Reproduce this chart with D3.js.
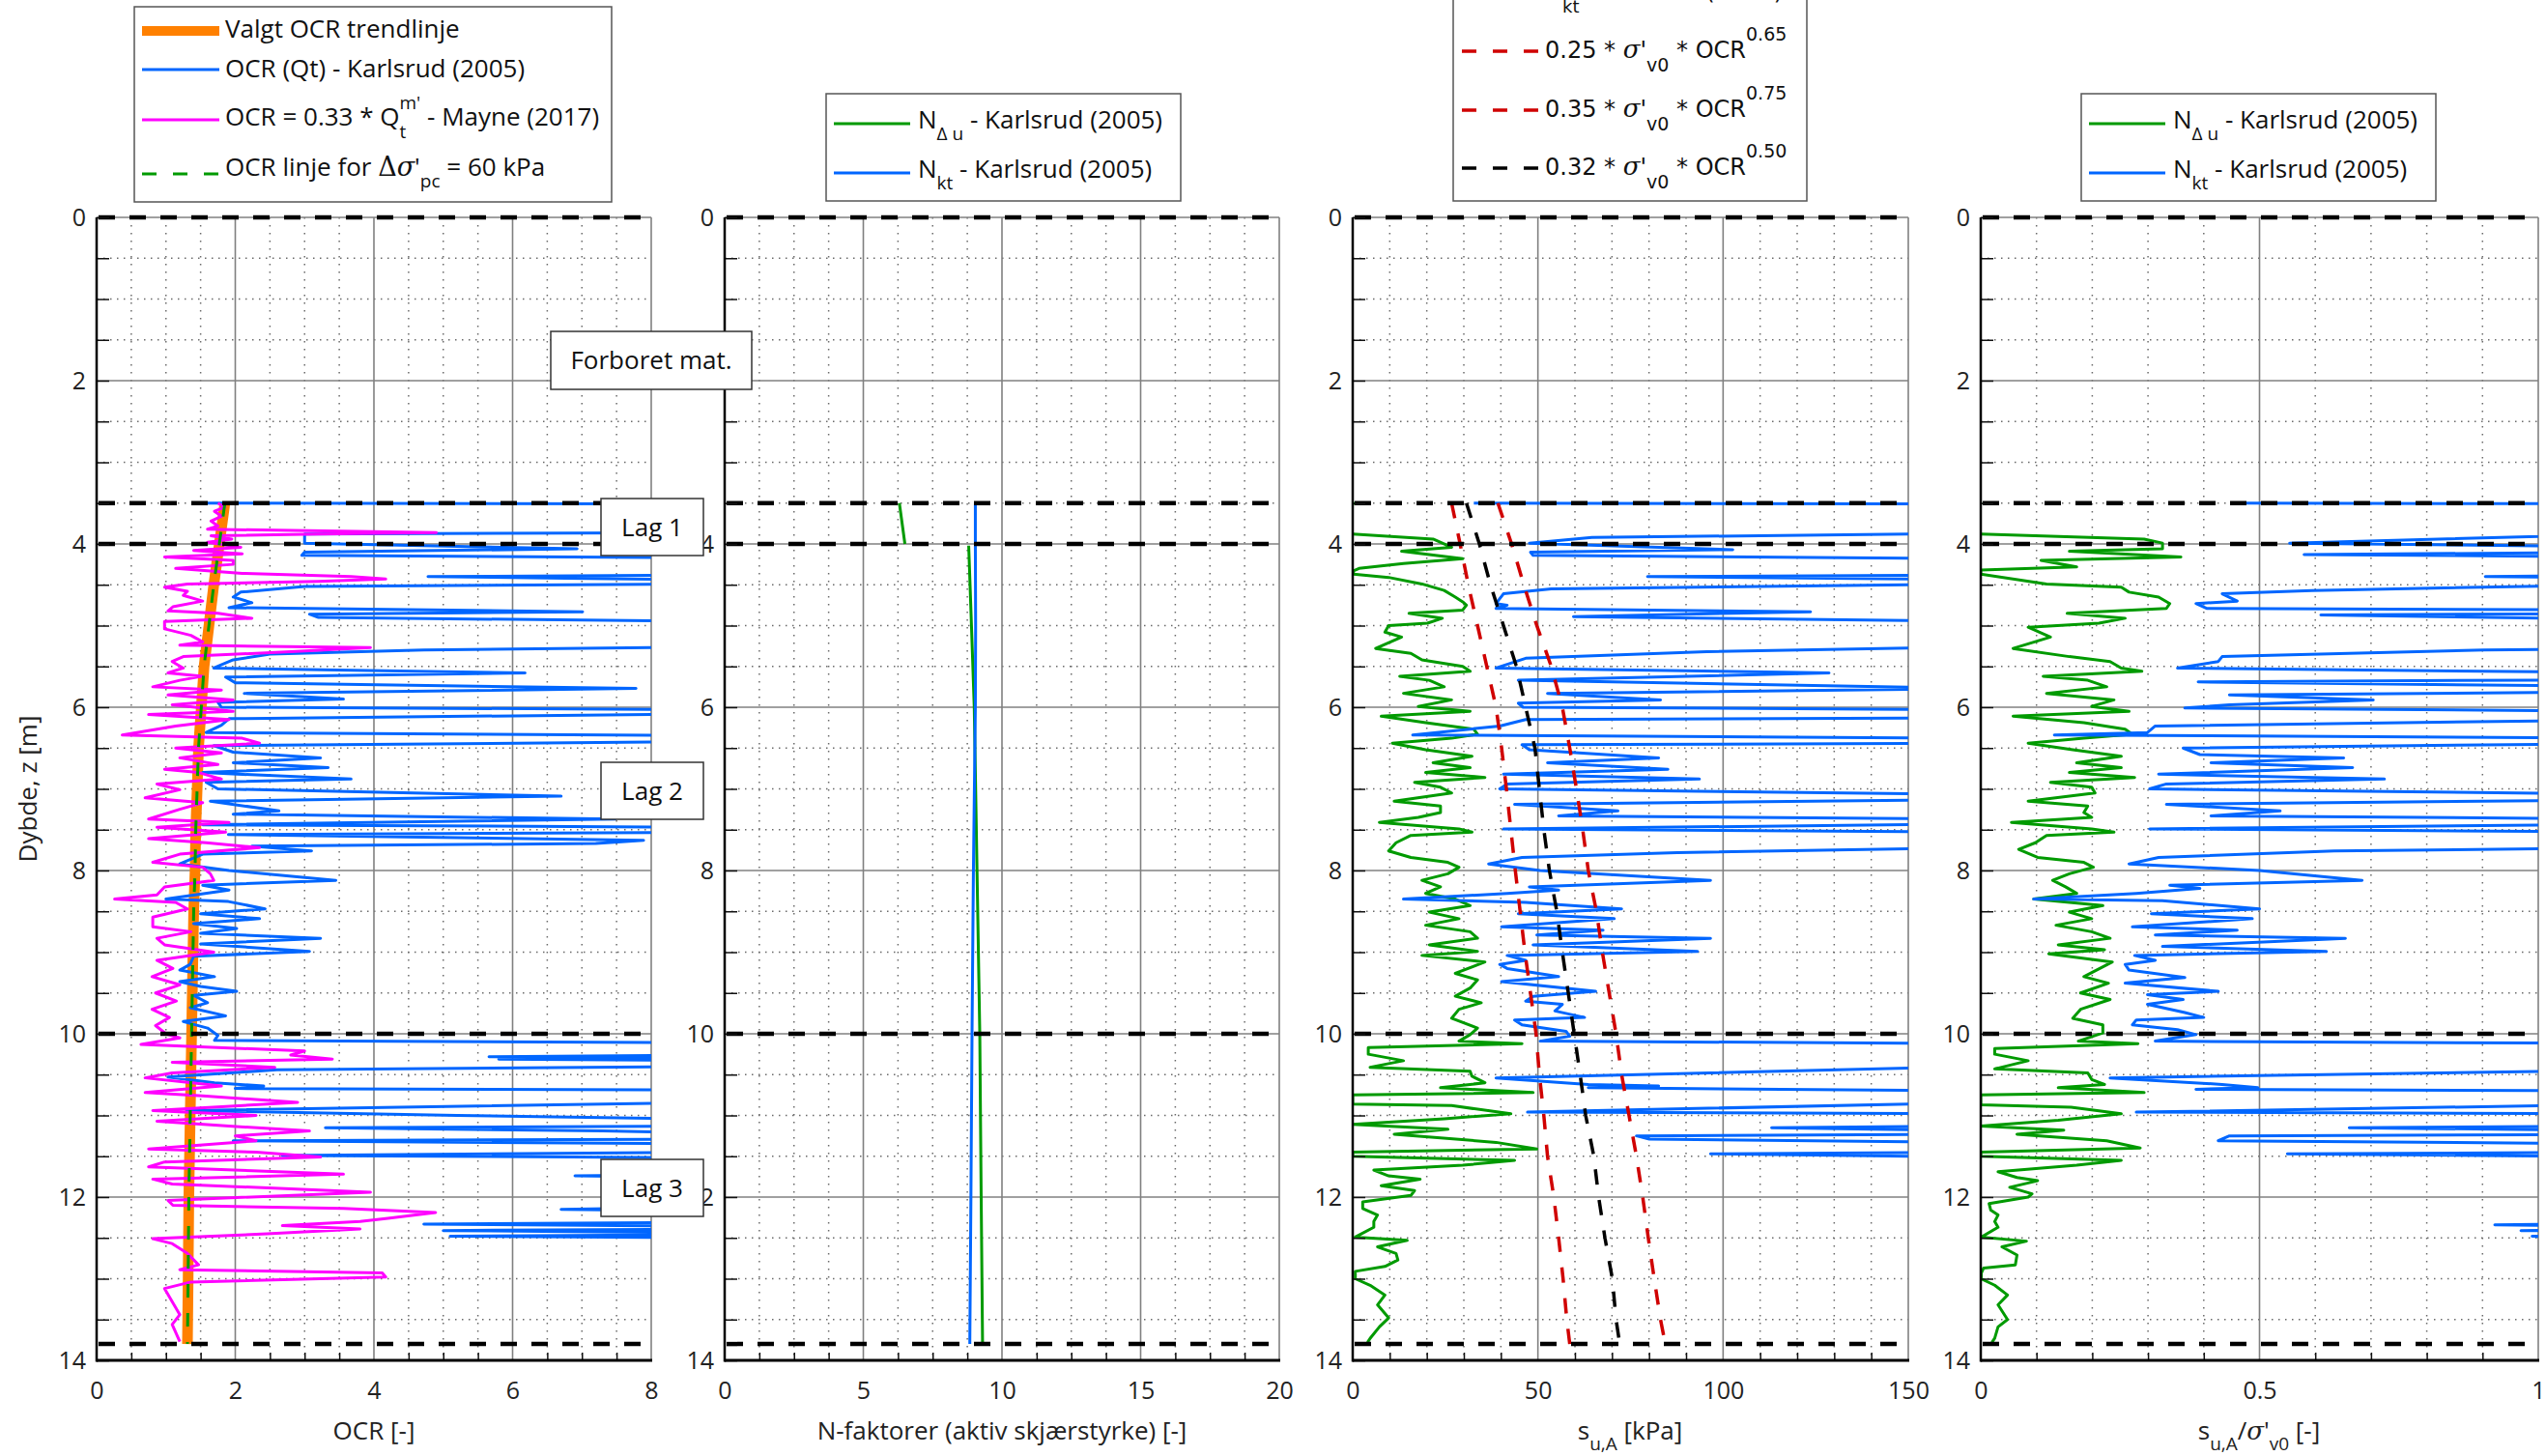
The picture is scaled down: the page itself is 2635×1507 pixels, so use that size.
<!DOCTYPE html>
<html>
<head>
<meta charset="utf-8">
<script src="https://cdn.jsdelivr.net/npm/d3@7"></script>
<style>
html, body { margin: 0; padding: 0; background: #fff; }
svg text { white-space: pre; }
</style>
</head>
<body>
<svg id="chart" width="2635" height="1507"></svg>
<script>
/* Tick labels and layer boundaries */
var depthTicks = [0, 2, 4, 6, 8, 10, 12, 14];
var ocrTicks = [0, 2, 4, 6, 8];
var nTicks = [0, 5, 10, 15, 20];
var suTicks = [0, 50, 100, 150];
var ratioTicks = [0, 0.5, 1];
var layerDepths = [0, 3.5, 4, 10, 13.8];
var layerLabels = ["Lag 1", "Lag 2", "Lag 3"];

/* Panel 1 - OCR, pairs of [depth, value]; 9 = off scale (> 8) */
var ocrTrend = [[3.5,1.85],[4,1.77],[4.5,1.69],[5,1.62],[5.5,1.55],[6,1.51],[6.5,1.47],[7,1.45],[7.5,1.43],[8,1.42],[8.5,1.40],[9,1.39],[10,1.37],[11,1.35],[12,1.33],[13,1.32],[13.8,1.31]];
var ocrLine60 = [[3.5,1.85],[4,1.77],[4.5,1.69],[5,1.62],[5.5,1.55],[6,1.51],[6.5,1.47],[7,1.45],[7.5,1.43],[8,1.42],[8.5,1.40],[9,1.39],[10,1.37],[11,1.35],[12,1.33],[13,1.32],[13.8,1.31]];
var ocrQt = [[3.5,1.58],[3.51,9],[3.86,9],[3.88,3.0],[3.99,3.0],[4.06,6.93],[4.1,3.0],[4.14,2.96],[4.17,9],[4.38,9],[4.4,4.78],[4.42,6.76],[4.44,9],[4.49,9],[4.52,3.0],[4.59,2.08],[4.65,1.97],[4.72,2.24],[4.78,1.91],[4.83,7.01],[4.86,3.07],[4.9,3.2],[4.95,9],[5.26,9],[5.3,4.72],[5.35,2.5],[5.42,1.97],[5.52,1.69],[5.58,6.18],[5.63,1.86],[5.7,2.0],[5.77,7.78],[5.83,2.13],[5.9,3.56],[5.94,1.75],[6.0,1.8],[6.03,9],[6.08,9],[6.14,1.91],[6.22,1.8],[6.31,1.58],[6.35,9],[6.42,9],[6.47,1.69],[6.55,1.97],[6.62,3.23],[6.68,1.97],[6.74,3.34],[6.8,1.53],[6.88,3.67],[6.92,1.58],[7.0,1.75],[7.09,6.7],[7.15,1.64],[7.27,2.63],[7.31,1.97],[7.37,7.48],[7.44,1.53],[7.47,9],[7.53,9],[7.56,1.9],[7.63,7.89],[7.67,7.2],[7.7,2.24],[7.76,3.1],[7.8,1.53],[7.92,1.2],[8.0,1.91],[8.12,3.45],[8.18,1.53],[8.24,1.91],[8.35,1.0],[8.38,1.9],[8.47,2.43],[8.53,1.5],[8.59,2.35],[8.65,1.4],[8.71,2.02],[8.77,1.5],[8.83,3.23],[8.9,1.5],[8.99,3.07],[9.05,1.4],[9.15,1.35],[9.22,1.2],[9.3,1.7],[9.36,1.2],[9.42,1.5],[9.48,2.02],[9.53,1.4],[9.62,1.6],[9.68,1.35],[9.78,1.86],[9.85,1.25],[9.93,1.6],[10.02,1.75],[10.08,1.7],[10.11,9],[10.26,9],[10.28,5.66],[10.3,9],[10.31,5.8],[10.33,9],[10.4,9],[10.44,2.6],[10.53,1.03],[10.6,1.7],[10.64,2.41],[10.67,2.0],[10.69,9],[10.84,9],[10.94,1.3],[11.0,5.2],[11.05,9],[11.13,9],[11.15,3.3],[11.19,7.3],[11.22,9],[11.29,9],[11.31,1.97],[11.35,9],[11.45,9],[11.49,2.68],[11.52,9],[11.72,9],[11.74,6.9],[11.76,9],[12.12,9],[12.15,6.7],[12.17,9],[12.31,9],[12.33,4.72],[12.36,9],[12.39,9],[12.41,5.0],[12.44,9],[12.46,9],[12.48,5.1],[12.5,9],[13.8,9]];
var ocrMayne = [[3.5,1.75],[3.55,1.85],[3.6,1.7],[3.66,1.8],[3.72,1.65],[3.78,1.75],[3.82,1.6],[3.86,4.9],[3.88,3.2],[3.9,1.65],[3.94,1.95],[3.98,1.6],[4.04,2.08],[4.08,1.4],[4.12,2.1],[4.16,0.98],[4.2,1.97],[4.25,1.97],[4.3,1.14],[4.36,2.1],[4.4,3.67],[4.43,4.17],[4.46,3.2],[4.49,1.31],[4.53,0.98],[4.58,1.31],[4.63,1.25],[4.7,1.53],[4.77,1.1],[4.82,1.03],[4.85,1.75],[4.91,2.24],[4.95,0.98],[5.04,0.98],[5.12,1.36],[5.2,1.53],[5.24,1.2],[5.27,3.95],[5.32,2.8],[5.38,1.25],[5.44,1.09],[5.52,1.25],[5.58,1.03],[5.62,1.53],[5.67,1.2],[5.75,0.81],[5.79,1.8],[5.85,1.03],[5.91,1.97],[5.97,1.09],[6.05,1.97],[6.09,0.75],[6.15,1.91],[6.23,1.14],[6.34,0.37],[6.38,2.1],[6.44,2.35],[6.5,1.14],[6.56,1.8],[6.62,1.2],[6.7,1.75],[6.76,0.98],[6.8,1.47],[6.88,1.8],[6.94,0.87],[7.01,1.2],[7.11,0.7],[7.17,1.53],[7.25,1.2],[7.37,0.75],[7.41,1.91],[7.47,0.87],[7.53,1.86],[7.61,0.75],[7.66,1.58],[7.72,2.35],[7.8,1.2],[7.9,0.81],[7.96,1.53],[8.04,1.64],[8.12,1.69],[8.2,0.98],[8.3,0.87],[8.35,0.26],[8.39,1.14],[8.47,1.31],[8.57,0.81],[8.69,0.81],[8.75,1.36],[8.83,0.87],[8.91,0.98],[9.0,1.69],[9.1,0.87],[9.2,1.1],[9.3,0.8],[9.4,1.2],[9.5,0.85],[9.6,1.15],[9.7,0.8],[9.8,1.05],[9.9,0.85],[10.0,1.0],[10.05,1.2],[10.13,0.64],[10.21,3.0],[10.26,2.8],[10.31,3.4],[10.35,1.09],[10.41,2.57],[10.48,1.09],[10.54,0.7],[10.64,1.8],[10.72,0.7],[10.76,1.53],[10.84,2.9],[10.94,0.81],[11.0,2.3],[11.07,0.87],[11.13,1.91],[11.19,3.07],[11.25,2.0],[11.31,2.3],[11.41,0.75],[11.45,2.3],[11.51,3.23],[11.57,0.98],[11.63,0.75],[11.72,3.56],[11.78,0.81],[11.84,1.09],[11.94,3.95],[12.04,1.03],[12.1,1.1],[12.14,3.56],[12.19,4.89],[12.26,4.2],[12.3,3.8],[12.35,2.68],[12.39,3.8],[12.45,2.46],[12.51,0.81],[12.57,1.09],[12.69,1.31],[12.83,1.47],[12.89,1.2],[12.93,4.12],[12.98,4.17],[13.04,1.36],[13.12,0.98],[13.28,1.09],[13.44,1.2],[13.56,1.09],[13.77,1.2]];

/* Panel 2 - N factors (null value = break in the line) */
var nDeltaU = [[3.5,6.3],[4.0,6.5],[4.01,null],[4.02,8.8],[5,8.9],[6,9.0],[8,9.1],[10,9.2],[12,9.25],[13.8,9.3]];
var nKt = [[3.5,9.04],[4,9.04],[5,9.05],[6,9.04],[8,8.97],[10,8.92],[12,8.88],[13.8,8.84]];

/* Panel 3 - su,A [kPa]; 170 = off scale (> 150), -5 = below 0 */
var suDeltaU = [[3.5,1.5],[3.52,-5],[3.87,-5],[3.88,0],[3.94,21.7],[4.04,26.7],[4.09,13.2],[4.18,29.7],[4.24,13.7],[4.3,1.7],[4.33,0.2],[4.37,0.2],[4.41,9.7],[4.49,18.7],[4.57,24.7],[4.65,27.7],[4.71,29.7],[4.75,30.7],[4.81,29.7],[4.85,15.2],[4.91,24.2],[4.97,20.2],[5.0,9.7],[5.08,8.7],[5.14,13.2],[5.28,6.2],[5.34,15.7],[5.42,18.7],[5.5,29.7],[5.56,31.7],[5.62,12.7],[5.67,20.7],[5.75,24.7],[5.83,13.7],[5.91,26.7],[5.99,17.7],[6.05,31.7],[6.11,7.7],[6.19,19.7],[6.27,32.7],[6.33,33.7],[6.38,26.7],[6.44,10.7],[6.52,19.7],[6.6,32.2],[6.68,21.7],[6.74,31.7],[6.8,19.7],[6.86,35.7],[6.92,16.7],[6.98,23.7],[7.05,26.7],[7.15,11.2],[7.21,23.7],[7.29,23.7],[7.35,17.7],[7.41,7.2],[7.49,28.7],[7.53,32.2],[7.57,15.7],[7.66,11.7],[7.76,9.7],[7.84,15.7],[7.9,25.7],[7.96,28.7],[8.04,25.7],[8.12,18.7],[8.2,23.7],[8.28,19.7],[8.35,27.7],[8.43,31.7],[8.51,20.7],[8.59,28.7],[8.67,19.7],[8.75,31.7],[8.83,33.7],[8.91,20.7],[8.99,33.7],[9.04,18.7],[9.12,35.7],[9.26,27.7],[9.34,33.7],[9.44,31.7],[9.54,27.7],[9.62,34.7],[9.7,28.7],[9.81,26.7],[9.93,33.7],[10.01,31.7],[10.09,28.7],[10.12,45.7],[10.17,4.2],[10.25,4.2],[10.33,13.7],[10.41,4.7],[10.46,31.7],[10.52,32.2],[10.6,35.7],[10.66,23.7],[10.72,48.7],[10.75,0],[10.86,0],[10.88,26.7],[10.98,42.7],[11.04,24.7],[11.11,0],[11.17,25.7],[11.23,11.2],[11.33,38.7],[11.41,49.7],[11.45,0],[11.5,0],[11.55,43.7],[11.61,29.7],[11.67,5.7],[11.74,9.7],[11.78,18.2],[11.86,7.7],[11.92,16.7],[11.98,15.7],[12.06,2.7],[12.14,2.7],[12.22,6.7],[12.3,5.7],[12.37,5.7],[12.49,0.7],[12.53,14.7],[12.61,6.7],[12.69,11.7],[12.77,12.2],[12.85,8.7],[12.91,0.7],[13.0,0.7],[13.08,4.7],[13.2,8.7],[13.32,6.7],[13.48,9.7],[13.59,7.2],[13.73,4.7],[13.78,4.0]];
var suKt = [[3.5,32.7],[3.51,170],[3.87,170],[3.92,64.6],[3.99,47.7],[4.07,102.6],[4.1,48],[4.14,48.7],[4.18,170],[4.38,170],[4.4,79.6],[4.42,128.6],[4.44,170],[4.49,170],[4.55,53.6],[4.61,40.7],[4.73,38.7],[4.75,41.7],[4.79,38.7],[4.83,123.6],[4.89,59.6],[4.95,170],[5.26,170],[5.32,95.6],[5.4,46.7],[5.52,38.7],[5.58,128.6],[5.67,44.7],[5.77,170],[5.83,52.6],[5.91,83.1],[5.95,44.7],[6.0,46],[6.03,170],[6.13,170],[6.15,46.7],[6.23,39.7],[6.34,16.2],[6.38,170],[6.44,170],[6.46,45.7],[6.52,47.7],[6.62,82.6],[6.68,52.6],[6.76,85.1],[6.82,40.7],[6.88,93.6],[6.94,41.7],[7.0,39.7],[7.07,170],[7.13,170],[7.19,43.7],[7.27,71.6],[7.33,55.6],[7.37,170],[7.43,170],[7.49,40.7],[7.53,170],[7.72,170],[7.78,87.6],[7.84,45.7],[7.92,36.7],[8.0,50.6],[8.12,96.6],[8.2,47.7],[8.24,55.6],[8.28,41.7],[8.35,13.7],[8.39,46.7],[8.47,72.6],[8.53,44.7],[8.59,70.6],[8.69,40.2],[8.73,67.6],[8.79,49.7],[8.83,96.6],[8.91,48.7],[8.99,93.1],[9.04,41.7],[9.1,46.7],[9.15,39.7],[9.2,41.7],[9.3,55.6],[9.36,40.2],[9.48,65.6],[9.54,48.7],[9.6,46.7],[9.64,56.6],[9.72,54.6],[9.8,62.6],[9.83,43.7],[9.89,45.7],[9.97,57.6],[10.03,58.6],[10.09,50.6],[10.12,170],[10.4,170],[10.54,38.7],[10.62,63.6],[10.64,82.6],[10.66,63.6],[10.7,170],[10.84,170],[10.96,47.2],[10.98,170],[11.13,170],[11.15,113.1],[11.19,170],[11.23,170],[11.25,76.6],[11.29,80.1],[11.33,170],[11.45,170],[11.47,96.6],[11.51,170],[13.8,170]];
var suLow = [[3.5,26.7],[4,29.0],[4.5,31.2],[5,33.7],[5.5,36.2],[6,38.7],[6.5,40.2],[7,41.5],[7.5,42.7],[8,43.9],[8.5,45.2],[9,46.5],[10,49.5],[10.5,50.4],[11,51.6],[11.5,52.6],[12,54.3],[12.5,55.6],[13,56.8],[13.5,57.8],[13.8,58.6]];
var suHigh = [[3.5,39.2],[4,42.9],[4.5,46.2],[5,49.7],[5.5,53.6],[6,56.6],[6.5,58.6],[7,60.4],[7.5,62.1],[8,63.6],[8.5,65.8],[9,67.4],[10,71.1],[10.5,72.6],[11,74.6],[11.5,76.6],[12,78.3],[12.5,79.8],[13,81.4],[13.5,83.1],[13.8,84.4]];
var suMid = [[3.5,30.7],[4,34.2],[4.5,37.2],[5,40.7],[5.5,44.2],[6,46.7],[6.5,49.2],[7,50.4],[7.5,51.6],[8,53.1],[8.5,55.1],[9,56.6],[10,59.8],[10.5,61.4],[11,62.9],[11.5,65.1],[12,66.4],[12.5,68.1],[13,70.1],[13.5,71.1],[13.8,72.1]];

/* Panel 4 - su,A / sigma'v0; 1.2 = off scale (> 1) */
var ratioDeltaU = [[3.5,0.002],[3.52,-0.05],[3.87,-0.05],[3.88,0],[3.94,0.293],[3.99,0.326],[4.06,0.326],[4.09,0.159],[4.16,0.359],[4.2,0.108],[4.28,0.172],[4.32,0],[4.37,0],[4.49,0.118],[4.53,0.252],[4.59,0.266],[4.65,0.319],[4.73,0.339],[4.79,0.333],[4.85,0.155],[4.91,0.259],[4.97,0.212],[5.02,0.085],[5.14,0.125],[5.28,0.058],[5.38,0.159],[5.44,0.232],[5.52,0.252],[5.56,0.289],[5.62,0.112],[5.67,0.192],[5.75,0.226],[5.83,0.118],[5.91,0.239],[5.99,0.199],[6.05,0.266],[6.11,0.058],[6.19,0.185],[6.27,0.259],[6.33,0.272],[6.38,0.185],[6.44,0.085],[6.52,0.165],[6.6,0.252],[6.68,0.172],[6.74,0.252],[6.8,0.159],[6.86,0.276],[6.92,0.125],[6.98,0.199],[7.05,0.205],[7.15,0.085],[7.21,0.192],[7.29,0.185],[7.35,0.199],[7.41,0.055],[7.49,0.199],[7.53,0.239],[7.57,0.118],[7.66,0.098],[7.74,0.068],[7.84,0.102],[7.9,0.185],[7.96,0.202],[8.04,0.159],[8.12,0.129],[8.2,0.152],[8.28,0.172],[8.35,0.095],[8.43,0.219],[8.51,0.159],[8.59,0.199],[8.67,0.135],[8.75,0.199],[8.83,0.232],[8.91,0.139],[8.97,0.222],[9.02,0.122],[9.12,0.236],[9.3,0.185],[9.38,0.229],[9.5,0.179],[9.58,0.232],[9.7,0.179],[9.81,0.165],[9.89,0.219],[9.99,0.219],[10.09,0.175],[10.12,0.282],[10.18,0.025],[10.25,0.025],[10.33,0.085],[10.43,0.025],[10.48,0.192],[10.56,0.199],[10.62,0.222],[10.66,0.139],[10.72,0.293],[10.75,0],[10.87,0],[10.9,0.162],[10.98,0.252],[11.06,0.139],[11.13,0],[11.18,0.149],[11.23,0.065],[11.31,0.226],[11.4,0.286],[11.45,0],[11.5,0],[11.55,0.252],[11.61,0.172],[11.69,0.031],[11.76,0.065],[11.8,0.102],[11.88,0.052],[11.96,0.092],[12.0,0.085],[12.08,0.015],[12.16,0.018],[12.22,0.031],[12.3,0.025],[12.37,0.031],[12.49,0.001],[12.54,0.082],[12.61,0.038],[12.71,0.065],[12.83,0.062],[12.87,0.005],[12.93,0.001],[13.0,0.001],[13.08,0.025],[13.2,0.048],[13.32,0.031],[13.5,0.048],[13.59,0.031],[13.73,0.025],[13.78,0.02]];
var ratioKt = [[3.5,0.473],[3.51,1.2],[3.87,1.2],[3.99,0.554],[4.04,1.2],[4.1,1.2],[4.13,0.58],[4.16,1.2],[4.38,1.2],[4.4,0.905],[4.42,1.2],[4.49,1.2],[4.57,0.594],[4.61,0.433],[4.7,0.46],[4.73,0.386],[4.79,0.406],[4.81,1.2],[4.85,1.2],[4.87,0.61],[4.93,1.2],[5.28,1.2],[5.3,0.902],[5.38,0.433],[5.44,0.426],[5.52,0.353],[5.58,1.2],[5.66,1.2],[5.69,0.39],[5.75,1.2],[5.81,1.2],[5.85,0.446],[5.91,0.704],[5.97,0.446],[6.01,0.366],[6.05,1.2],[6.15,1.2],[6.23,0.313],[6.31,0.299],[6.34,0.132],[6.38,1.2],[6.44,1.2],[6.5,0.363],[6.58,0.393],[6.62,0.651],[6.68,0.413],[6.74,0.667],[6.82,0.319],[6.88,0.724],[6.94,0.333],[7.0,0.303],[7.07,1.2],[7.13,1.2],[7.19,0.333],[7.27,0.537],[7.33,0.413],[7.37,1.2],[7.43,1.2],[7.49,0.303],[7.53,1.2],[7.72,1.2],[7.76,0.634],[7.84,0.319],[7.92,0.266],[8.0,0.5],[8.12,0.684],[8.18,0.339],[8.22,0.393],[8.28,0.279],[8.35,0.095],[8.37,0.326],[8.47,0.5],[8.53,0.306],[8.59,0.487],[8.69,0.272],[8.73,0.46],[8.79,0.313],[8.83,0.654],[8.93,0.326],[8.99,0.62],[9.04,0.276],[9.1,0.313],[9.15,0.259],[9.22,0.266],[9.31,0.366],[9.38,0.259],[9.48,0.426],[9.52,0.299],[9.58,0.363],[9.64,0.299],[9.74,0.366],[9.8,0.4],[9.83,0.279],[9.89,0.272],[9.95,0.353],[10.01,0.386],[10.09,0.313],[10.12,1.2],[10.44,1.2],[10.54,0.232],[10.62,0.433],[10.66,0.497],[10.68,0.386],[10.7,1.2],[10.86,1.2],[10.96,0.279],[10.98,1.2],[11.13,1.2],[11.15,0.661],[11.19,1.2],[11.23,1.2],[11.25,0.446],[11.31,0.426],[11.35,1.2],[11.45,1.2],[11.47,0.55],[11.51,1.2],[12.32,1.2],[12.34,0.922],[12.36,1.2],[12.39,1.2],[12.41,0.969],[12.43,1.2],[12.46,1.2],[12.48,0.989],[12.5,1.2],[13.8,1.2]];

var BLUE = "#0066ff", GREEN = "#009a00", MAGENTA = "#ff00ff", ORANGE = "#ff8000", RED = "#d00000";
var SANS = "'Open Sans', 'DejaVu Sans', sans-serif";
var SERIF = "'DejaVu Serif', 'Liberation Serif', serif";

var svg = d3.select("#chart");
var defs = svg.append("defs");
var y = d3.scaleLinear().domain([0, 14]).range([225, 1408]);
var TOP = y(0), BOT = y(14);

/* Draw a row of text with sub/superscripts, measuring each piece */
function richText(parent, parts, base) {
  var grp = parent.append("g");
  var cx = 0, stackX = 0, stackW = 0;
  parts.forEach(function (p) {
    var px = p.stack === "top" ? stackX : cx;
    var t = grp.append("text")
      .attr("x", px).attr("y", p.dy || 0)
      .attr("font-family", p.family || base.family)
      .attr("font-size", p.size || base.size)
      .attr("font-style", p.italic ? "italic" : null)
      .attr("fill", base.fill || "#111")
      .text(p.t);
    var w = t.node().getComputedTextLength();
    if (p.stack === "bottom") { stackX = cx; stackW = w; }
    else if (p.stack === "top") { cx = stackX + Math.max(stackW, w); }
    else { cx += w; }
  });
  return { g: grp, width: cx };
}

var panels = [
  { x0: 100, x1: 674, domain: [0, 8], ticks: ocrTicks, minor: 0.5,
    series: [
      { d: ocrTrend, c: ORANGE, w: 11 },
      { d: ocrQt, c: BLUE, w: 3 },
      { d: ocrMayne, c: MAGENTA, w: 3 },
      { d: ocrLine60, c: GREEN, w: 3, dash: "14,16" }
    ] },
  { x0: 750, x1: 1324, domain: [0, 20], ticks: nTicks, minor: 1.25,
    series: [
      { d: nDeltaU, c: GREEN, w: 3 },
      { d: nKt, c: BLUE, w: 3 }
    ] },
  { x0: 1400, x1: 1975, domain: [0, 150], ticks: suTicks, minor: 10,
    series: [
      { d: suDeltaU, c: GREEN, w: 3 },
      { d: suKt, c: BLUE, w: 3 },
      { d: suLow, c: RED, w: 3.5, dash: "16,16" },
      { d: suHigh, c: RED, w: 3.5, dash: "16,16" },
      { d: suMid, c: "#000", w: 3.5, dash: "16,16" }
    ] },
  { x0: 2050, x1: 2627, domain: [0, 1], ticks: ratioTicks, minor: 0.1,
    series: [
      { d: ratioDeltaU, c: GREEN, w: 3 },
      { d: ratioKt, c: BLUE, w: 3 }
    ] }
];

function isMajor(v, list) {
  return list.some(function (t) { return Math.abs(t - v) < 1e-6; });
}

panels.forEach(function drawPanel(p, i) {
  var x = d3.scaleLinear().domain(p.domain).range([p.x0, p.x1]);
  var g = svg.append("g");
  var clipId = "clip" + i;
  defs.append("clipPath").attr("id", clipId).append("rect")
    .attr("x", p.x0).attr("y", TOP).attr("width", p.x1 - p.x0).attr("height", BOT - TOP);

  var minorX = d3.range(p.domain[0], p.domain[1] + 1e-6, p.minor)
    .filter(function (v) { return !isMajor(v, p.ticks); });
  var minorY = d3.range(0, 14.001, 0.5)
    .filter(function (v) { return !isMajor(v, depthTicks); });

  /* minor dotted grid */
  g.append("g").selectAll("line").data(minorX).join("line")
    .attr("x1", function (d) { return x(d); }).attr("x2", function (d) { return x(d); })
    .attr("y1", TOP).attr("y2", BOT)
    .attr("stroke", "#6a6a6a").attr("stroke-width", 1.5).attr("stroke-dasharray", "1.5,6.5");
  g.append("g").selectAll("line").data(minorY).join("line")
    .attr("x1", p.x0).attr("x2", p.x1)
    .attr("y1", function (d) { return y(d); }).attr("y2", function (d) { return y(d); })
    .attr("stroke", "#6a6a6a").attr("stroke-width", 1.5).attr("stroke-dasharray", "1.5,5.5");

  /* major solid grid */
  g.append("g").selectAll("line").data(p.ticks.slice(1)).join("line")
    .attr("x1", function (d) { return x(d); }).attr("x2", function (d) { return x(d); })
    .attr("y1", TOP).attr("y2", BOT)
    .attr("stroke", "#808080").attr("stroke-width", 1.6);
  g.append("g").selectAll("line").data(depthTicks.slice(0, -1)).join("line")
    .attr("x1", p.x0).attr("x2", p.x1)
    .attr("y1", function (d) { return y(d); }).attr("y2", function (d) { return y(d); })
    .attr("stroke", "#808080").attr("stroke-width", 1.6);

  /* data */
  var line = d3.line()
    .defined(function (d) { return d[1] !== null; })
    .x(function (d) { return x(d[1]); })
    .y(function (d) { return y(d[0]); });
  var dg = g.append("g").attr("clip-path", "url(#" + clipId + ")");
  p.series.forEach(function (s) {
    dg.append("path").datum(s.d)
      .attr("d", line)
      .attr("fill", "none")
      .attr("stroke", s.c)
      .attr("stroke-width", s.w)
      .attr("stroke-linejoin", "round")
      .attr("stroke-dasharray", s.dash || null);
  });

  /* layer boundaries */
  g.append("g").selectAll("line").data(layerDepths).join("line")
    .attr("x1", p.x0 + 2).attr("x2", p.x1)
    .attr("y1", function (d) { return y(d); }).attr("y2", function (d) { return y(d); })
    .attr("stroke", "#000").attr("stroke-width", 4.5).attr("stroke-dasharray", "17,15");

  /* inner ticks */
  var yTickAxis = g.append("g").attr("transform", "translate(" + p.x0 + ",0)")
    .call(d3.axisLeft(y).tickValues(d3.range(0, 14.001, 0.5)).tickSize(-13).tickFormat(""));
  yTickAxis.select(".domain").remove();
  yTickAxis.selectAll("line").attr("stroke", "#111").attr("stroke-width", 1.5);

  var xTickAxis = g.append("g").attr("transform", "translate(0," + BOT + ")")
    .call(d3.axisBottom(x).tickValues(minorX).tickSize(-8).tickFormat(""));
  xTickAxis.select(".domain").remove();
  xTickAxis.selectAll("line").attr("stroke", "#111").attr("stroke-width", 1.5);

  /* axis lines */
  g.append("line").attr("x1", p.x0).attr("x2", p.x0).attr("y1", TOP).attr("y2", BOT + 1.5)
    .attr("stroke", "#000").attr("stroke-width", 2.5);
  g.append("line").attr("x1", p.x0).attr("x2", p.x1 + 1).attr("y1", BOT).attr("y2", BOT)
    .attr("stroke", "#000").attr("stroke-width", 3);

  /* tick labels */
  var yLab = g.append("g").attr("transform", "translate(" + p.x0 + ",0)")
    .call(d3.axisLeft(y).tickValues(depthTicks).tickSize(0).tickPadding(11));
  yLab.select(".domain").remove();
  yLab.attr("font-family", SANS).attr("font-size", 25);
  yLab.selectAll("text").attr("fill", "#222");

  var xLab = g.append("g").attr("transform", "translate(0," + BOT + ")")
    .call(d3.axisBottom(x).tickValues(p.ticks).tickSize(0).tickFormat(function (d) { return String(d); }));
  xLab.select(".domain").remove();
  xLab.attr("font-family", SANS).attr("font-size", 25);
  xLab.selectAll("text").attr("fill", "#222").attr("y", 40).attr("dy", null);
});

/* axis titles */
var base = { family: SANS, size: 26, fill: "#222" };
function centeredTitle(cx, parts) {
  var r = richText(svg, parts, base);
  r.g.attr("transform", "translate(" + (cx - r.width / 2) + ",1490)");
}
centeredTitle(387, [{ t: "OCR [-]" }]);
centeredTitle(1037, [{ t: "N-faktorer (aktiv skjærstyrke) [-]" }]);
centeredTitle(1687, [{ t: "s" }, { t: "u,A", dy: 11, size: 19 }, { t: " [kPa]" }]);
centeredTitle(2338, [{ t: "s" }, { t: "u,A", dy: 11, size: 19 }, { t: "/" },
  { t: "σ", family: SERIF, italic: true }, { t: "'" }, { t: "v0", dy: 11, size: 19 }, { t: " [-]" }]);

svg.append("text")
  .attr("transform", "translate(38," + ((TOP + BOT) / 2) + ") rotate(-90)")
  .attr("text-anchor", "middle")
  .attr("font-family", SANS).attr("font-size", 26).attr("fill", "#222")
  .text("Dybde, z [m]");

/* annotation boxes */
function labelBox(x, yTop, w, h, text) {
  svg.append("rect").attr("x", x).attr("y", yTop).attr("width", w).attr("height", h)
    .attr("fill", "#fff").attr("stroke", "#333").attr("stroke-width", 1.5);
  svg.append("text").attr("x", x + w / 2).attr("y", yTop + h / 2 + 9)
    .attr("text-anchor", "middle").attr("font-family", SANS).attr("font-size", 26)
    .attr("fill", "#111").text(text);
}
labelBox(570, 343, 208, 60, "Forboret mat.");
labelBox(622, 516, 106, 59, layerLabels[0]);
labelBox(622, 789, 106, 59, layerLabels[1]);
labelBox(622, 1200, 106, 59, layerLabels[2]);

/* legends */
function legendBox(x, yTop, w, h) {
  svg.append("rect").attr("x", x).attr("y", yTop).attr("width", w).attr("height", h)
    .attr("fill", "#fff").attr("stroke", "#555").attr("stroke-width", 1.5);
}
function legendRow(lx0, lx1, ly, style, tx, tb, parts, b) {
  svg.append("line").attr("x1", lx0).attr("x2", lx1).attr("y1", ly).attr("y2", ly)
    .attr("stroke", style.c).attr("stroke-width", style.w)
    .attr("stroke-dasharray", style.dash || null);
  var r = richText(svg, parts, b);
  r.g.attr("transform", "translate(" + tx + "," + tb + ")");
}

var lb = { family: SANS, size: 26, fill: "#111" };
legendBox(139, 7, 494, 202);
legendRow(147, 227, 32, { c: ORANGE, w: 10 }, 233, 39, [{ t: "Valgt OCR trendlinje" }], lb);
legendRow(147, 227, 72, { c: BLUE, w: 3 }, 233, 80, [{ t: "OCR (Qt) - Karlsrud (2005)" }], lb);
legendRow(147, 227, 124, { c: MAGENTA, w: 3 }, 233, 130, [{ t: "OCR = 0.33 * Q" },
  { t: "t", dy: 13, size: 19, stack: "bottom" }, { t: "m'", dy: -17, size: 19, stack: "top" },
  { t: " - Mayne (2017)" }], lb);
legendRow(147, 227, 180, { c: GREEN, w: 3, dash: "15,17" }, 233, 182, [{ t: "OCR linje for " },
  { t: "Δ", family: SERIF, size: 27 }, { t: "σ", family: SERIF, italic: true, size: 27 }, { t: "'" },
  { t: "pc", dy: 12, size: 19 }, { t: " = 60 kPa" }], lb);

[855, 2154].forEach(function (bx) {
  legendBox(bx, 97, 367, 111);
  legendRow(bx + 8, bx + 87, 128, { c: GREEN, w: 3 }, bx + 95, 133,
    [{ t: "N" }, { t: "Δ u", dy: 12, size: 19 }, { t: " - Karlsrud (2005)" }], lb);
  legendRow(bx + 8, bx + 87, 179, { c: BLUE, w: 3 }, bx + 95, 184,
    [{ t: "N" }, { t: "kt", dy: 12, size: 19 }, { t: " - Karlsrud (2005)" }], lb);
});

var lb3 = { family: "'DejaVu Sans', sans-serif", size: 24, fill: "#111" };
legendBox(1504, -140, 366, 348);
legendRow(1513, 1592, -68, { c: GREEN, w: 3 }, 1599, -62,
  [{ t: "N" }, { t: "Δ u", dy: 13, size: 18 }, { t: " - Karlsrud (2005)" }], lb3);
legendRow(1513, 1592, -7, { c: BLUE, w: 3 }, 1599, -1,
  [{ t: "N" }, { t: "kt", dy: 14, size: 18 }, { t: " - Karlsrud (2005)" }], lb3);
[["0.25", "0.65", RED, 53], ["0.35", "0.75", RED, 114], ["0.32", "0.50", "#000", 174]].forEach(function (r) {
  legendRow(1513, 1592, r[3], { c: r[2], w: 3.5, dash: "15,17" }, 1599, r[3] + 7, [
    { t: r[0] + " * " }, { t: "σ", family: SERIF, italic: true, size: 26 }, { t: "'" },
    { t: "v0", dy: 14, size: 19 }, { t: " * OCR" }, { t: r[1], dy: -18, size: 19 }
  ], lb3);
});
</script>
</body>
</html>
